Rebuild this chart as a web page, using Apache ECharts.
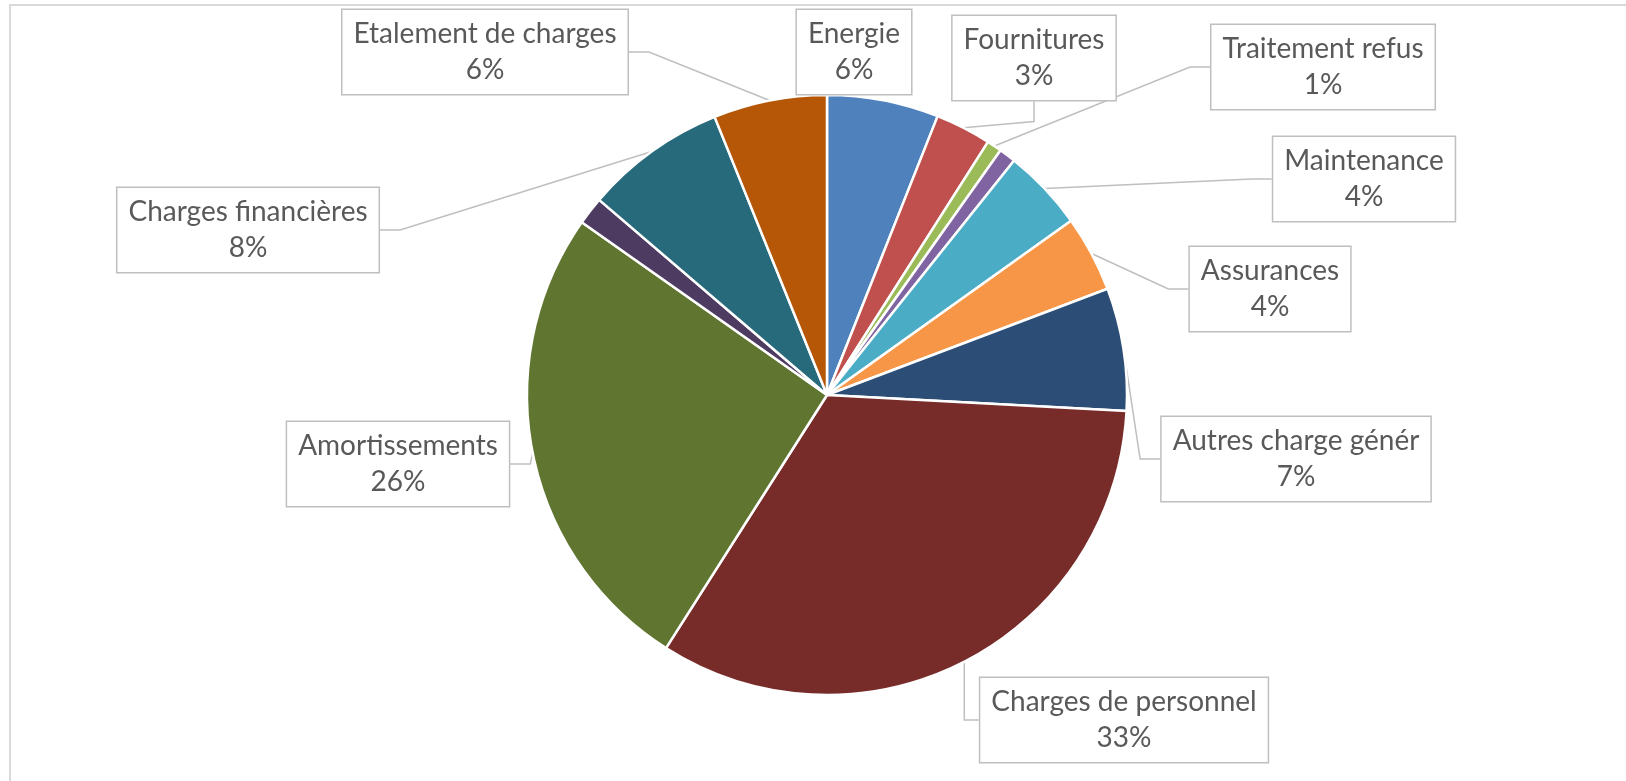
<!DOCTYPE html>
<html>
<head>
<meta charset="utf-8">
<script src="https://cdn.jsdelivr.net/npm/echarts@6/dist/echarts.min.js"></script>
<style>
  html, body { margin: 0; padding: 0; background: #fff; }
  #main { width: 1626px; height: 781px; }
</style>
</head>
<body>
<div id="main"></div>
<script>
// postes de charges, dans l'ordre horaire depuis midi
var categories = ['Energie', 'Fournitures', 'Traitement refus', '', 'Maintenance', 'Assurances',
    'Autres charge génér', 'Charges de personnel', 'Amortissements', '', 'Charges financières',
    'Etalement de charges'];
var values = [6.0, 3.0, 0.8, 0.9, 4.4, 4.1, 6.6, 33.1, 25.7, 1.5, 7.6, 6.1];
var showLabel = [true, true, true, false, true, true, true, true, true, false, true, true];

var colors = ['#4F81BD', '#C0504D', '#9BBB59', '#8064A2', '#4BACC6', '#F79646',
    '#2C4D75', '#772C2A', '#5F7530', '#4D3B62', '#276A7C', '#B65708'];

// centre des étiquettes (boîtes)
var labelPos = [[854, 52], [1034, 58], [1323, 67], null, [1364, 179], [1270, 289],
    [1296, 459], [1124, 720], [398, 464], null, [248, 230], [485, 52]];

function buildData() {
    var serdata = [];
    for (var i = 0; i < categories.length; i++) {
        var temp = {};
        temp['name'] = categories[i];
        temp['value'] = values[i];
        if (!showLabel[i]) {
            temp['label'] = { show: false };
            temp['labelLine'] = { show: false };
        }
        serdata.push(temp);
    }
    return serdata;
}

var option = {
    backgroundColor: '#fff',
    color: colors,
    animation: false,
    graphic: [{
        type: 'rect',
        shape: { x: 10, y: 5, width: 1700, height: 900 },
        style: { fill: 'none', stroke: '#D9D9D9', lineWidth: 2 },
        silent: true
    }],
    series: [{
        type: 'pie',
        center: [827, 395],
        radius: 300,
        startAngle: 90,
        clockwise: true,
        avoidLabelOverlap: false,
        itemStyle: { borderColor: '#fff', borderWidth: 2.5 },
        label: {
            show: true,
            formatter: function (p) {
                return p.name + '\n' + Math.round(p.percent) + '%';
            },
            fontFamily: 'Lato',
            fontSize: 28,
            lineHeight: 36,
            color: '#595959',
            align: 'center',
            backgroundColor: '#fff',
            borderColor: '#BFBFBF',
            borderWidth: 1.5,
            padding: [7, 11, 5, 11]
        },
        labelLine: {
            show: true,
            length: 20,
            length2: 20,
            lineStyle: { color: '#BFBFBF', width: 1.5 }
        },
        labelLayout: function (params) {
            var pos = labelPos[params.dataIndex];
            if (!pos) return {};
            return {
                x: pos[0],
                y: pos[1],
                align: 'center',
                verticalAlign: 'middle'
            };
        },
        data: buildData()
    }]
};

var myChart = echarts.init(document.getElementById('main'));
myChart.setOption(option);
</script>
</body>
</html>
